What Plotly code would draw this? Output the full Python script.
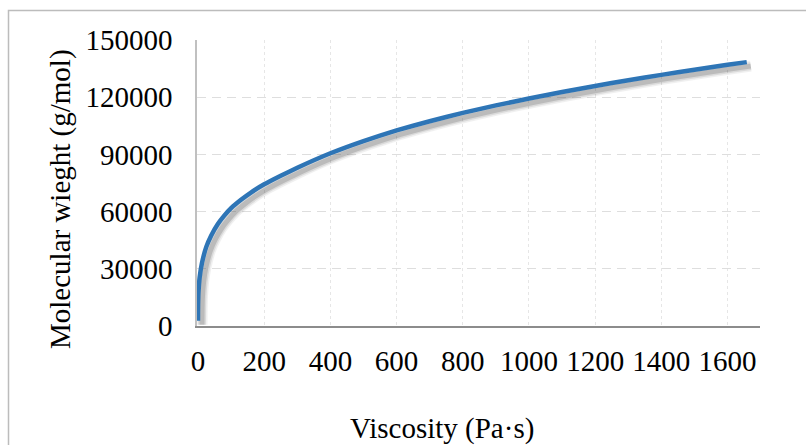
import plotly.graph_objects as go

# Viscosity (Pa·s) and the corresponding molecular weight (g/mol)
viscosity = [0.003, 0.05, 0.3, 1.5, 5, 12, 25, 40, 60, 80, 100, 130, 160, 200,
             250, 300, 400, 500, 600, 700, 800, 900, 1000, 1100, 1200, 1300,
             1400, 1500, 1600, 1658]
mol_weight = [2800, 6500, 11000, 17800, 25500, 33000, 41500, 47500, 53500, 58000,
              61800, 66200, 70000, 74300, 78800, 83000, 90600, 97000, 102600,
              107400, 111800, 115700, 119300, 122700, 125900, 128900, 131700,
              134400, 137000, 138400]

x_ticks = [0, 200, 400, 600, 800, 1000, 1200, 1400, 1600]
y_ticks = [0, 30000, 60000, 90000, 120000, 150000]

W, H = 806, 445
ML, MR, MT, MB = 197, 46, 40, 119
PW, PH = W - ML - MR, H - MT - MB

X_RANGE = [-3, 1698]
Y_RANGE = [0, 150000]
FONT = "Liberation Serif, Times New Roman, serif"


def px_to_paper(px, py):
    return (px - ML) / PW, (H - MB - py) / PH


# units per pixel, used to offset the drop-shadow axes
ux = (X_RANGE[1] - X_RANGE[0]) / PW
uy = (Y_RANGE[1] - Y_RANGE[0]) / PH
sdx, sdy = 4, 4

fig = go.Figure()

# soft drop shadow: base axes are hidden and shifted by a few pixels
for w, op in [(11, 0.08), (8, 0.13), (5, 0.22)]:
    fig.add_trace(go.Scatter(
        x=viscosity, y=mol_weight, mode="lines",
        line=dict(color="rgb(80,80,80)", width=w, shape="spline", smoothing=0.4),
        opacity=op, xaxis="x", yaxis="y", hoverinfo="skip", showlegend=False,
    ))

# the curve itself, on the visible overlay axes (drawn above the shadow)
fig.add_trace(go.Scatter(
    x=viscosity, y=mol_weight, mode="lines",
    line=dict(color="#2e75b6", width=4.5, shape="spline", smoothing=0.4),
    xaxis="x2", yaxis="y2", showlegend=False,
))

fig.update_layout(
    width=W, height=H,
    margin=dict(l=ML, r=MR, t=MT, b=MB, pad=0),
    paper_bgcolor="white", plot_bgcolor="white",
    font=dict(family=FONT, size=29, color="#000000"),
    xaxis=dict(range=[X_RANGE[0] - sdx * ux, X_RANGE[1] - sdx * ux],
               showgrid=False, zeroline=False, showline=False,
               showticklabels=False, ticks=""),
    yaxis=dict(range=[Y_RANGE[0] + sdy * uy, Y_RANGE[1] + sdy * uy],
               showgrid=False, zeroline=False, showline=False,
               showticklabels=False, ticks=""),
    xaxis2=dict(
        overlaying="x", anchor="y2", side="bottom",
        range=X_RANGE, tickvals=x_ticks, ticktext=[str(v) for v in x_ticks],
        showgrid=True, gridcolor="#e6e6e6", gridwidth=1, griddash="3px,3px",
        showline=True, linecolor="#8c8c8c", linewidth=2,
        zeroline=False, ticks="", ticklabelstandoff=8,
        tickfont=dict(family=FONT, size=29, color="#000000"),
    ),
    yaxis2=dict(
        overlaying="y", anchor="x2", side="left",
        range=Y_RANGE, tickvals=y_ticks, ticktext=[str(v) for v in y_ticks],
        showgrid=True, gridcolor="#dedede", gridwidth=1.3, griddash="9px,6px",
        showline=True, linecolor="#c0c0c0", linewidth=1.5,
        zeroline=False, ticks="", ticklabelstandoff=17,
        tickfont=dict(family=FONT, size=29, color="#000000"),
    ),
)

# axis titles
tx, ty = px_to_paper(442, 428)
fig.add_annotation(text="Viscosity (Pa·s)", xref="paper", yref="paper",
                   x=tx, y=ty, xanchor="center", yanchor="middle", showarrow=False,
                   font=dict(family=FONT, size=29, color="#000000"))
tx, ty = px_to_paper(60, 199)
fig.add_annotation(text="Molecular wieght (g/mol)", xref="paper", yref="paper",
                   x=tx, y=ty, xanchor="center", yanchor="middle", showarrow=False,
                   textangle=-90,
                   font=dict(family=FONT, size=29, color="#000000"))

# chart-area border
x0, y1 = px_to_paper(8.5, 10.5)
x1, y0 = px_to_paper(812, 452)
fig.add_shape(type="rect", xref="paper", yref="paper", x0=x0, y0=y0, x1=x1, y1=y1,
              line=dict(color="#bcbcbc", width=1.5), fillcolor="rgba(0,0,0,0)",
              layer="below")

fig.write_html("out.html")
